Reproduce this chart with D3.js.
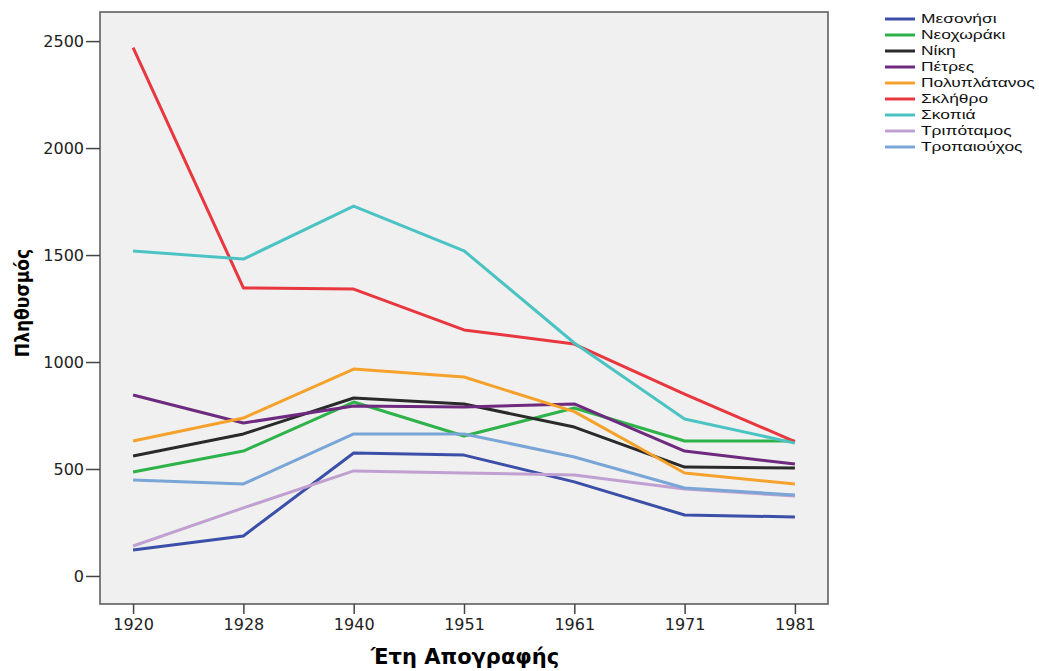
<html>
<head>
<meta charset="utf-8">
<script src="https://d3js.org/d3.v7.min.js"></script>
<style>
    body { margin: 0; background-color: #fff; font-family: 'Liberation Sans', Arial, sans-serif; }
</style>
</head>
<body>
<svg width="1039" height="671"></svg>
<script type="text/javascript">
    // census years and population per village
    var years = ["1920", "1928", "1940", "1951", "1961", "1971", "1981"];
    var villages = ["Μεσονήσι", "Νεοχωράκι", "Νίκη", "Πέτρες", "Πολυπλάτανος", "Σκλήθρο", "Σκοπιά", "Τριπόταμος", "Τροπαιούχος"];
    var colors = ["#3c4fa8", "#2eb24a", "#2a2a2a", "#6e2a7e", "#f5a22d", "#e8373f", "#4cc3c3", "#c0a0d0", "#79a6d6"];
    var mesonisi     = [121, 187, 575, 565, 440, 285, 276];
    var neochoraki   = [486, 584, 813, 654, 785, 631, 631];
    var niki         = [561, 664, 832, 804, 696, 509, 505];
    var petres       = [846, 715, 794, 790, 804, 584, 523];
    var polyplatanos = [631, 738, 967, 930, 768, 481, 430];
    var sklithro     = [2470, 1346, 1341, 1150, 1084, 850, 628];
    var skopia       = [1519, 1481, 1729, 1520, 1089, 734, 621];
    var tripotamos   = [140, 318, 491, 481, 472, 406, 374];
    var tropaiouchos = [449, 430, 664, 664, 556, 411, 378];
    var yTicks = [0, 500, 1000, 1500, 2000, 2500];

    var series = [mesonisi, neochoraki, niki, petres, polyplatanos, sklithro, skopia, tripotamos, tropaiouchos];

    var svg = d3.select("svg"),
        margin = {top: 12, right: 211, bottom: 67, left: 100},
        width = +svg.attr("width") - margin.left - margin.right,
        height = +svg.attr("height") - margin.top - margin.bottom,
        g = svg.append("g").attr("transform", "translate(" + margin.left + "," + margin.top + ")");

    var x = d3.scalePoint()
        .domain(years)
        .range([0, width])
        .padding(0.3);

    var y = d3.scaleLinear()
        .domain([-131, 2636])
        .range([height, 0]);

    g.append("rect")
        .attr("width", width)
        .attr("height", height)
        .attr("fill", "#f0f0f0")
        .attr("stroke", "#555")
        .attr("stroke-width", 1.5);

    var line = d3.line()
        .x(function(d, i) { return x(years[i]); })
        .y(function(d) { return y(d); });

    series.forEach(function(s, k) {
        g.append("path")
            .datum(s)
            .attr("fill", "none")
            .attr("stroke", colors[k])
            .attr("stroke-width", 3)
            .attr("stroke-linejoin", "round")
            .attr("d", line);
    });

    var xAxis = g.append("g")
        .attr("transform", "translate(0," + height + ")")
        .call(d3.axisBottom(x).tickSize(10).tickPadding(5));
    xAxis.select(".domain").remove();
    xAxis.selectAll("line").attr("stroke", "#444").attr("stroke-width", 1.5);
    xAxis.selectAll("text").style("font", "16px 'DejaVu Sans'").attr("fill", "#222");

    var yAxis = g.append("g")
        .call(d3.axisLeft(y).tickValues(yTicks).tickFormat(d3.format("d")).tickSize(14).tickPadding(2));
    yAxis.select(".domain").remove();
    yAxis.selectAll("line").attr("stroke", "#444").attr("stroke-width", 1.5);
    yAxis.selectAll("text").style("font", "16px 'DejaVu Sans'").attr("fill", "#222");

    svg.append("text")
        .attr("transform", "translate(29,303) rotate(-90)")
        .attr("text-anchor", "middle")
        .style("font", "bold 19px 'DejaVu Sans Condensed', 'DejaVu Sans'")
        .style("font-stretch", "condensed")
        .text("Πληθυσμός");

    svg.append("text")
        .attr("x", 465)
        .attr("y", 664)
        .attr("text-anchor", "middle")
        .style("font", "bold 21px 'DejaVu Sans'")
        .text("Έτη Απογραφής");

    var legend = svg.append("g").attr("transform", "translate(885,19)");
    villages.forEach(function(name, k) {
        var row = legend.append("g").attr("transform", "translate(0," + (k * 16) + ")");
        row.append("line")
            .attr("x1", 0).attr("x2", 30)
            .attr("stroke", colors[k])
            .attr("stroke-width", 3);
        row.append("text")
            .attr("transform", "translate(36,0) scale(1.45,1)")
            .attr("dy", "0.35em")
            .style("font", "12px 'Liberation Sans'")
            .attr("fill", "#111")
            .text(name);
    });
</script>
</body>
</html>
